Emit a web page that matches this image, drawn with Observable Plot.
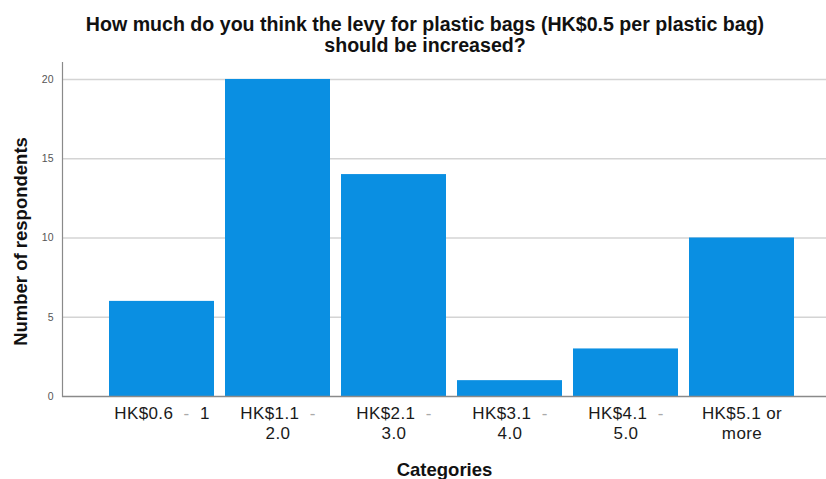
<!DOCTYPE html>
<html>
<head>
<meta charset="utf-8">
<script src="https://cdn.jsdelivr.net/npm/d3@7"></script>
<script src="https://cdn.jsdelivr.net/npm/@observablehq/plot@0.6"></script>
<style>
  body { margin: 0; background: #fff; }
  #title { width: 826px; height: 62px; box-sizing: border-box; padding-top: 14px; padding-left: 24px; text-align: center;
    font-family: "Liberation Sans", Arial, sans-serif; font-weight: bold; font-size: 19.6px; line-height: 20.5px; color: #111; }
  #chart svg { display: block; }
</style>
</head>
<body>
<div id="title">How much do you think the levy for plastic bags (HK$0.5 per plastic bag)<br>should be increased?</div>
<div id="chart"></div>
<script>
const categories = [
  "HK$0.6\u00a0\u00a0–\u00a0\u00a01",
  "HK$1.1\u00a0\u00a0–\n2.0",
  "HK$2.1\u00a0\u00a0–\n3.0",
  "HK$3.1\u00a0\u00a0–\n4.0",
  "HK$4.1\u00a0\u00a0–\n5.0",
  "HK$5.1 or\nmore"
];
const counts = [6, 20, 14, 1, 3, 10];
const yTicks = [0, 5, 10, 15, 20];

const data = categories.map((c, i) => ({category: c, count: counts[i]}));

const chart = Plot.plot({
  width: 826,
  height: 417,
  marginTop: 0,
  marginLeft: 62,
  marginRight: 0,
  marginBottom: 83,
  style: {fontFamily: "'Liberation Sans', Arial, sans-serif", background: "#fff"},
  x: {domain: categories, range: [108, 794], paddingInner: 0.098, paddingOuter: 0},
  y: {domain: [0, 21.07]},
  marks: [
    Plot.ruleY(yTicks.filter(d => d > 0), {stroke: "#d4d4d4", strokeWidth: 1.5}),
    Plot.barY(data, {x: "category", y: "count", fill: "#0a8fe2"}),
    Plot.frame({anchor: "left", stroke: "#8a8a8a", strokeWidth: 1.2}),
    Plot.ruleY([0], {stroke: "#8a8a8a", strokeWidth: 1.5}),
    Plot.axisY({ticks: yTicks, tickSize: 0, tickPadding: 9, fontSize: 10.5, color: "#555",
      label: "Number of respondents", labelAnchor: "center", labelArrow: false, labelOffset: 49}),
    Plot.axisX({tickSize: 0, tickPadding: 8, fontSize: 17, color: "#1a1a1a", lineHeight: 1.17,
      label: "Categories", labelAnchor: "center", labelArrow: false, labelOffset: 79})
  ]
});
document.getElementById("chart").append(chart);
// style axis labels bold
chart.querySelectorAll("g[aria-label='y-axis label'] text, g[aria-label='x-axis label'] text").forEach(t => {
  t.style.fontWeight = "bold";
  t.style.fontSize = "18.5px";
  t.style.fill = "#111";
});
const yl = chart.querySelector("g[aria-label='y-axis label'] text");
if (yl) yl.setAttribute("dx", "-12");
// tick labels: slight letter spacing and light-grey dashes
chart.querySelectorAll("g[aria-label='x-axis tick label'] text").forEach(t => {
  t.style.letterSpacing = "0.4px";
  const walker = document.createTreeWalker(t, NodeFilter.SHOW_TEXT);
  const nodes = [];
  while (walker.nextNode()) nodes.push(walker.currentNode);
  nodes.forEach(n => {
    if (!n.nodeValue.includes("–")) return;
    const parts = n.nodeValue.split("–");
    const frag = document.createDocumentFragment();
    parts.forEach((p, i) => {
      frag.append(document.createTextNode(p));
      if (i < parts.length - 1) {
        const s = document.createElementNS("http://www.w3.org/2000/svg", "tspan");
        s.setAttribute("fill", "#aaa");
        s.textContent = "-";
        frag.append(s);
      }
    });
    n.parentNode.replaceChild(frag, n);
  });
});
</script>
</body>
</html>
